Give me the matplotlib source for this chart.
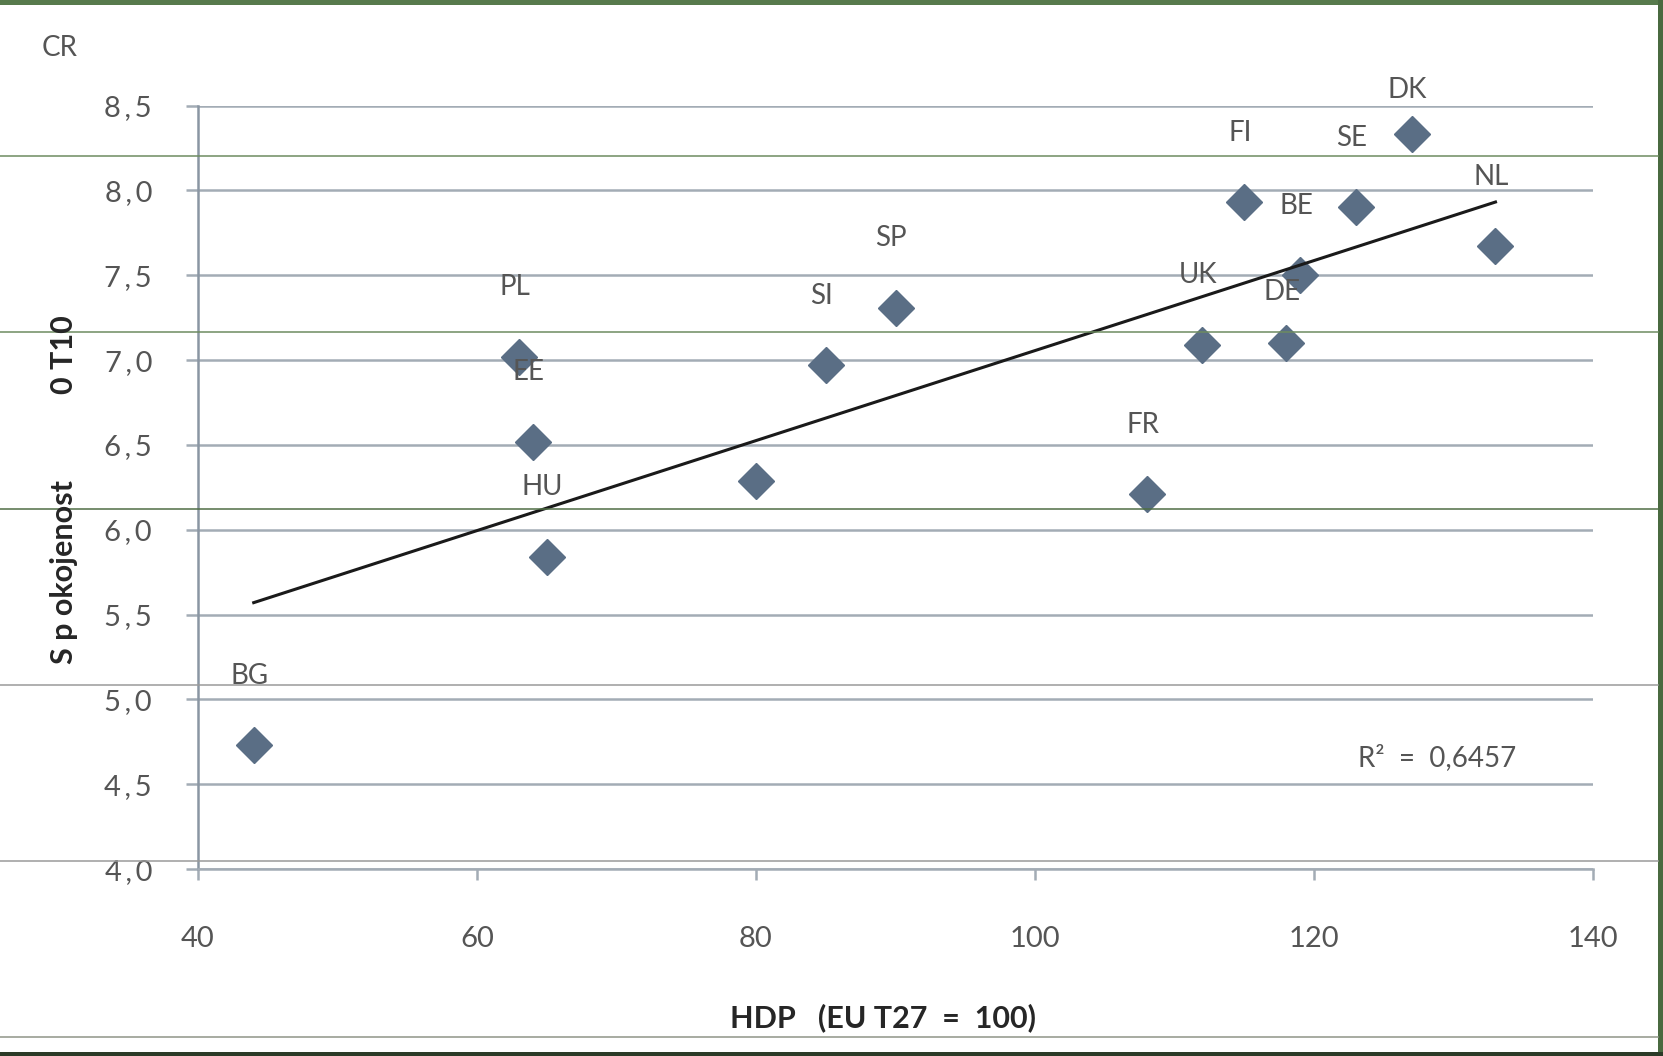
import numpy as np
import matplotlib
matplotlib.use("Agg")
import matplotlib.pyplot as plt
from matplotlib.lines import Line2D
from matplotlib.patches import Rectangle

plt.rcParams['font.family'] = ['Lato', 'DejaVu Sans']

# country codes, GDP per capita (EU27 = 100) and life satisfaction (0-10)
countries = ['BG', 'PL', 'EE', 'HU', '', 'SI', 'SP', 'FR', 'UK', 'DE', 'FI', 'BE', 'SE', 'DK', 'NL']
hdp = [44, 63, 64, 65, 80, 85, 90, 108, 112, 118, 115, 119, 123, 127, 133]
spokojenost = [4.73, 7.02, 6.52, 5.84, 6.29, 6.97, 7.31, 6.21, 7.09, 7.10, 7.93, 7.50, 7.90, 8.33, 7.67]
r2_text = 'R²  =  0,6457'

x_ticks = [40, 60, 80, 100, 120, 140]
y_ticks = [4.0, 4.5, 5.0, 5.5, 6.0, 6.5, 7.0, 7.5, 8.0, 8.5]

grid_col = '#a3acb5'
text_col = '#555555'
marker_col = '#5a6e85'

fig = plt.figure(figsize=(16.63, 10.56), dpi=100)
ax = fig.add_axes([0.119, 0.177, 0.839, 0.723])

# horizontal gridlines
for yv in y_ticks:
    ax.axhline(yv, color=grid_col, lw=1.8, zorder=1)

# scatter points
ax.plot(hdp, spokojenost, linestyle='none', marker='D', markersize=18,
        color=marker_col, zorder=3)

# linear trend line over the data range
k, q = np.polyfit(hdp, spokojenost, 1)
xs = np.array([min(hdp), max(hdp)])
ax.plot(xs, k * xs + q, color='#1a1a1a', lw=2.2, zorder=4)

# data labels above the markers
special_offset = {'DK': 32, 'DE': 37}
for name, xv, yv in zip(countries, hdp, spokojenost):
    if not name:
        continue
    ax.annotate(name, (xv, yv), xytext=(-3, special_offset.get(name, 50)),
                textcoords='offset points', ha='center', va='center',
                fontsize=20, color=text_col, zorder=5)

ax.text(128.8, 4.66, r2_text, ha='center', va='center', fontsize=20, color=text_col)

ax.set_xlim(40, 140)
ax.set_ylim(4.0, 8.5)
ax.set_xticks(x_ticks)
ax.set_yticks(y_ticks)
ax.set_yticklabels([f'{v:.1f}'.replace('.', ' , ').replace(' ', '\u2009') for v in y_ticks])
ax.tick_params(axis='y', length=9, width=1.8, color=grid_col, pad=24,
               labelsize=21, labelcolor=text_col)
ax.tick_params(axis='x', length=8, width=1.8, color=grid_col, pad=33,
               labelsize=21, labelcolor=text_col)

for side in ['top', 'right']:
    ax.spines[side].set_visible(False)
ax.spines['left'].set_color('#8a96a3')
ax.spines['left'].set_linewidth(1.8)
ax.spines['bottom'].set_color(grid_col)
ax.spines['bottom'].set_linewidth(1.8)

# axis titles and corner note
fig.text(0.531, 0.036, 'HDP   (EU T27  =  100)', ha='center', va='center',
         fontsize=22, fontweight='bold', color='#262626')
fig.text(0.0385, 0.458, 'S p okojenost', rotation=90, ha='center', va='center',
         fontsize=22, fontweight='bold', color='#262626')
fig.text(0.0385, 0.664, '0 T10', rotation=90, ha='center', va='center',
         fontsize=22, fontweight='bold', color='#262626')
fig.text(0.025, 0.955, 'CR', ha='left', va='center', fontsize=20, color=text_col)

# scan artefacts: page border and faint ruled lines
W, H = 1663, 1056
for yp, c in [(156, '#6d8c60'), (332, '#6d8c60'), (509, '#4f6e45'),
              (685, '#9a9a9a'), (861, '#9a9a9a'), (1037, '#8f9488')]:
    fig.add_artist(Line2D([0, 1 - 5 / W], [1 - yp / H] * 2, color=c, lw=1.1))
fig.add_artist(Rectangle((0, 1 - 5 / H), 1, 5 / H, color='#577a4c', lw=0))
fig.add_artist(Rectangle((1 - 5 / W, 0), 5 / W, 1, color='#4a6a40', lw=0))
fig.add_artist(Rectangle((0, 0), 1, 4 / H, color='#2b3a27', lw=0))

fig.savefig('out.png', dpi=100)
